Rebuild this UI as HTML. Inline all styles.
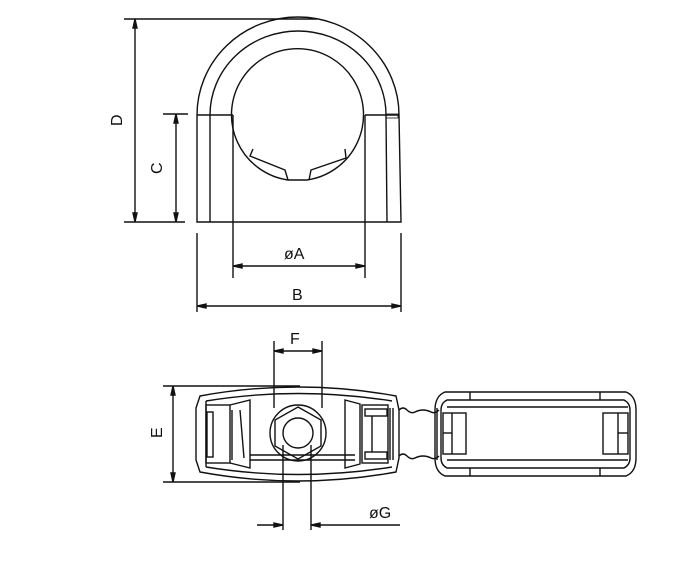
<!DOCTYPE html>
<html><head><meta charset="utf-8"><style>
html,body{margin:0;padding:0;background:#fff;}
svg{display:block;}
text{font-family:"Liberation Sans",sans-serif;font-size:16px;fill:#111;}
</style></head><body>
<svg width="700" height="562" viewBox="0 0 700 562" xmlns="http://www.w3.org/2000/svg">
<g fill="none" stroke="#111" stroke-width="1.4">
<line x1="124" y1="19" x2="317" y2="19"/>
<line x1="124" y1="222" x2="185" y2="222"/>
<line x1="135" y1="19" x2="135" y2="222"/>
<path d="M133,28 L135,19 L137,28Z M133,213 L135,222 L137,213Z" fill="#111"/>
<line x1="163" y1="114" x2="188" y2="114"/>
<line x1="176" y1="114" x2="176" y2="222"/>
<path d="M174,123 L176,114 L178,123Z M174,213 L176,222 L178,213Z" fill="#111"/>
<path d="M197,222 L197,115 A101,98 0 0 1 399,115 L401,222 Z"/>
<path d="M210,222 L210,115 A88,84 0 0 1 386,115 L387,222"/>
<line x1="197" y1="115" x2="233" y2="115"/>
<line x1="365" y1="115" x2="399" y2="115"/>
<rect x="386" y="114" width="12" height="4" stroke-width="0.8"/>
<path d="M288,180 A66,66 0 1 1 307,180 Z"/>
<path d="M253,149 L250,156 L285,170 L288,180"/>
<path d="M345,149 L346,158 L311,170 L309,180"/>
<line x1="233" y1="115" x2="233" y2="278"/>
<line x1="365" y1="115" x2="365" y2="278"/>
<line x1="233" y1="266" x2="365" y2="266"/>
<path d="M242,264 L233,266 L242,268Z M356,264 L365,266 L356,268Z" fill="#111"/>
<line x1="197" y1="233" x2="197" y2="312"/>
<line x1="401" y1="233" x2="401" y2="312"/>
<line x1="197" y1="306" x2="401" y2="306"/>
<path d="M206,304 L197,306 L206,308Z M392,304 L401,306 L392,308Z" fill="#111"/>

<line x1="274" y1="341" x2="274" y2="408"/>
<line x1="322" y1="341" x2="322" y2="408"/>
<line x1="274" y1="351" x2="322" y2="351"/>
<path d="M283,349 L274,351 L283,353Z M313,349 L322,351 L313,353Z" fill="#111"/>
<line x1="163" y1="386" x2="300" y2="386"/>
<line x1="163" y1="482" x2="300" y2="482"/>
<line x1="173" y1="386" x2="173" y2="482"/>
<path d="M171,395 L173,386 L175,395Z M171,473 L173,482 L175,473Z" fill="#111"/>
<path d="M200,396 Q298,378 396,396 L399,410 L399,458 L396,472 Q298,490 200,472 L196,460 L196,408 Z"/>
<path d="M206,401 Q298,386 392,401 M206,467 Q298,482 392,467"/>
<line x1="206" y1="401" x2="206" y2="467"/>
<rect x="206" y="405" width="24" height="58"/>
<rect x="207" y="412" width="6" height="45"/>
<path d="M230,405 L250,400 L250,468 L230,463"/>
<line x1="232" y1="410" x2="232" y2="460"/>
<line x1="240" y1="410" x2="244" y2="458"/>
<line x1="250" y1="460" x2="355" y2="460"/>
<line x1="250" y1="455" x2="355" y2="455"/>
<path d="M345,400 L360,404 L360,464 L345,468 Z"/>
<rect x="362" y="405" width="26" height="58"/>
<rect x="365" y="409" width="22" height="7"/>
<rect x="365" y="452" width="22" height="7"/>
<line x1="372" y1="416" x2="372" y2="452"/>
<line x1="390" y1="408" x2="390" y2="460"/>
<line x1="393" y1="408" x2="393" y2="460"/>
<circle cx="298" cy="433" r="28"/>
<polygon points="298,407 321,420 321,446 298,459 275,446 275,420"/>
<circle cx="298" cy="433" r="15"/>
<line x1="283" y1="445" x2="283" y2="530"/>
<line x1="311" y1="445" x2="311" y2="530"/>
<line x1="257" y1="525" x2="283" y2="525"/>
<line x1="311" y1="525" x2="400" y2="525"/>
<path d="M274,523 L283,525 L274,527Z M320,523 L311,525 L320,527Z" fill="#111"/>
<path d="M399,410 q4,-4 8,0 t8,2 t8,-2 t8,2 t8,-2"/>
<path d="M399,456 q4,-4 8,0 t8,2 t8,-2 t8,2 t8,-2"/>
<path d="M445,392 L626,392 Q636,396 636,410 L636,458 Q636,472 626,476 L445,476 Q435,472 435,458 L435,410 Q435,396 445,392 Z"/>
<path d="M447,400 L624,400 Q630,403 630,410 L630,458 Q630,465 624,468 L447,468 Q441,465 441,458 L441,410 Q441,403 447,400 Z"/>
<line x1="447" y1="407" x2="628" y2="407"/>
<line x1="447" y1="460" x2="628" y2="460"/>
<line x1="470" y1="392" x2="470" y2="400"/>
<line x1="600" y1="392" x2="600" y2="400"/>
<line x1="470" y1="468" x2="470" y2="476"/>
<line x1="600" y1="468" x2="600" y2="476"/>
<line x1="437" y1="408" x2="437" y2="460"/>
<rect x="443" y="413" width="23" height="41"/>
<line x1="452" y1="413" x2="452" y2="454"/>
<line x1="443" y1="433" x2="452" y2="433"/>
<rect x="603" y="413" width="25" height="41"/>
<line x1="618" y1="413" x2="618" y2="454"/>
<line x1="618" y1="433" x2="628" y2="433"/>
</g>
<text x="112" y="126" transform="rotate(-90 117 121)">D</text>
<text x="152" y="174" transform="rotate(-90 157 169)">C</text>
<text x="284" y="259">øA</text>
<text x="292" y="300">B</text>
<text x="290" y="344">F</text>
<text x="152" y="438" transform="rotate(-90 157 433)">E</text>
<text x="369" y="518">øG</text>
</svg>
</body></html>
